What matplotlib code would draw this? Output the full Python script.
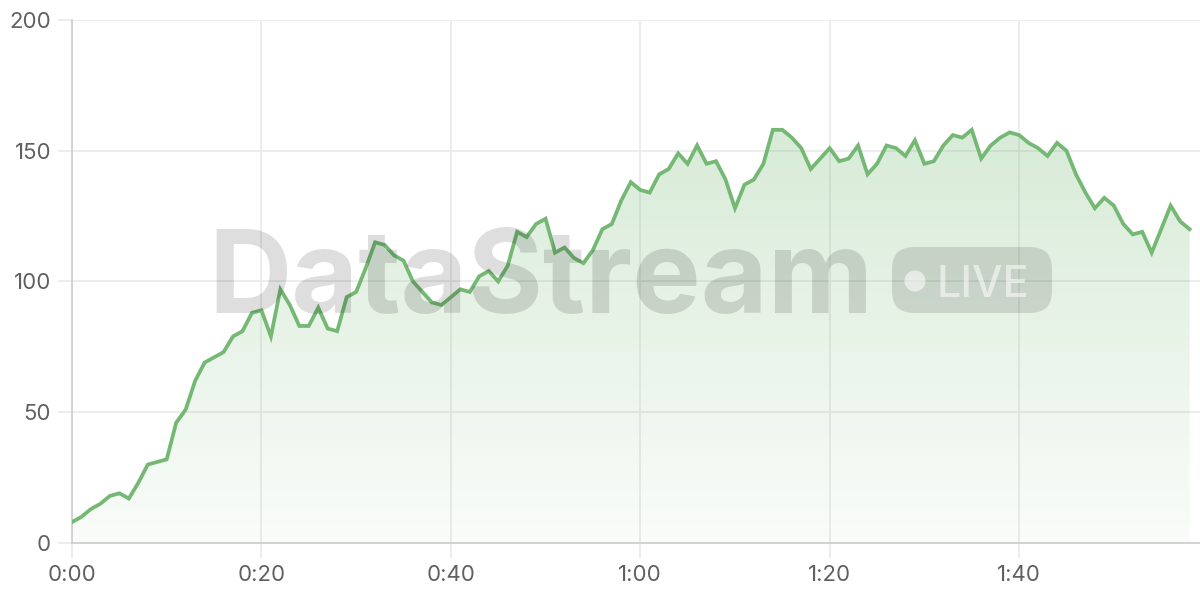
import matplotlib.pyplot as plt
import numpy as np
from matplotlib.patches import FancyBboxPatch, Circle
from matplotlib.colors import LinearSegmentedColormap
from matplotlib.transforms import IdentityTransform

# one value per second, 0:00 .. 1:58
seconds = list(range(119))
values = [8, 10, 13, 15, 18, 19, 17, 23, 30, 31,
          32, 46, 51, 62, 69, 71, 73, 79, 81, 88,
          89, 79, 97, 91, 83, 83, 90, 82, 81, 94,
          96, 105, 115, 114, 110, 108, 100, 96, 92, 91,
          94, 97, 96, 102, 104, 100, 106, 119, 117, 122,
          124, 111, 113, 109, 107, 112, 120, 122, 131, 138,
          135, 134, 141, 143, 149, 145, 152, 145, 146, 139,
          128, 137, 139, 145, 158, 158, 155, 151, 143, 147,
          151, 146, 147, 152, 141, 145, 152, 151, 148, 154,
          145, 146, 152, 156, 155, 158, 147, 152, 155, 157,
          156, 153, 151, 148, 153, 150, 141, 134, 128, 132,
          129, 122, 118, 119, 111, 120, 129, 123, 120]
x_ticks = [0, 20, 40, 60, 80, 100]
x_labels = ['0:00', '0:20', '0:40', '1:00', '1:20', '1:40']
y_ticks = [0, 50, 100, 150, 200]

line_color = '#74b874'
grid_color = '#e8e8e8'
label_color = '#606060'

plt.rcParams['font.family'] = ['Inter', 'DejaVu Sans']

fig = plt.figure(figsize=(12, 6), dpi=100)
ax = fig.add_axes([0.06, 0.095, 0.94, 0.8717])

x = np.array(seconds)
y = np.array(values)

# gradient fill under the line
cmap = LinearSegmentedColormap.from_list('g', [(0.45, 0.72, 0.45, 0.04), (0.45, 0.72, 0.45, 0.28)])
grad = np.linspace(0, 1, 256).reshape(-1, 1)
poly = ax.fill_between(x, 0, y, color='none', lw=0)
img = ax.imshow(grad, cmap=cmap, aspect='auto', origin='lower',
                extent=[x[0], x[-1], 0, max(values)], zorder=1)
img.set_clip_path(poly.get_paths()[0], transform=ax.transData)

ax.plot(x, y, color=line_color, lw=2.7, zorder=3, solid_joinstyle='miter')

ax.set_xlim(0, 119.1)
ax.set_ylim(0, 200)
ax.set_xticks(x_ticks)
ax.set_xticklabels(x_labels)
ax.set_yticks(y_ticks)
ax.grid(True, color=grid_color, lw=1.1, zorder=0)
ax.set_axisbelow(True)
for s in ['top', 'right']:
    ax.spines[s].set_visible(False)
for s in ['left', 'bottom']:
    ax.spines[s].set_color('#cccccc')
    ax.spines[s].set_linewidth(1.2)
ax.tick_params(axis='both', colors=grid_color, labelcolor=label_color, labelsize=16, width=1.1)
ax.tick_params(axis='y', length=10, pad=5)
ax.tick_params(axis='x', length=11, pad=5)

# watermark (pixel coordinates, origin bottom-left)
fig.text(541, 600 - 313, 'DataStream', fontsize=83, fontweight='bold', color='black', alpha=0.13,
         ha='center', va='baseline', transform=IdentityTransform(), zorder=5)
box = FancyBboxPatch((892, 600 - 313), 160, 66, boxstyle='round,pad=0,rounding_size=22',
                     transform=IdentityTransform(), facecolor='black', alpha=0.12, lw=0, zorder=5)
fig.patches.append(box)
dot = Circle((915, 600 - 281), 10.5, transform=IdentityTransform(), facecolor='white',
             alpha=0.55, lw=0, zorder=6)
fig.patches.append(dot)
fig.text(937, 600 - 297, 'LIVE', fontsize=31, fontweight='medium', color='white', alpha=0.55,
         ha='left', va='baseline', transform=IdentityTransform(), zorder=6)

fig.savefig('out.png', dpi=100)
